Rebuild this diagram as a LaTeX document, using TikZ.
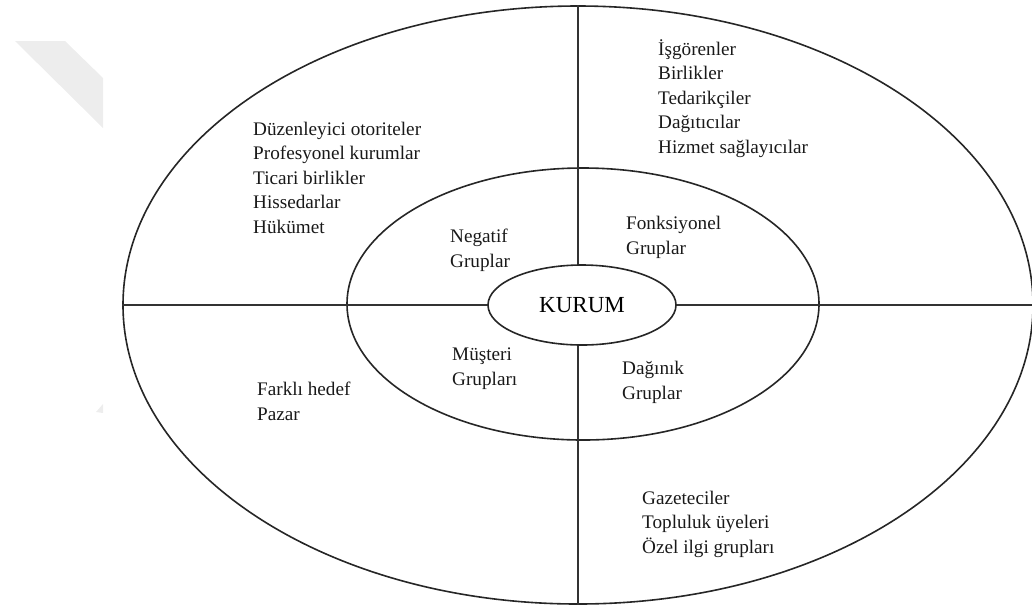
\documentclass[tikz,border=0pt]{standalone}
\usepackage{fontspec}
\setmainfont{Liberation Serif}
\usetikzlibrary{shapes.geometric}
\begin{document}
\begin{tikzpicture}[x=1pt,y=-1pt,
  ring/.style={draw=black!85, line width=1.6pt, ellipse, inner sep=0pt},
  divider/.style={draw=black!80, line width=2pt},
  grouptext/.style={anchor=base west, align=left, inner sep=0pt,
    font=\fontsize{19.2}{24.5}\selectfont, text=black!90},
]
\useasboundingbox (0,0) rectangle (1032,606);
% faint background mark
\fill[black!7] (15,41) -- (65,41) -- (103,78) -- (103,128) -- cycle;
\fill[black!7] (96,412) -- (103,404) -- (103,413) -- cycle;
% rings
\node[ring, minimum width=910pt, minimum height=598pt] (outer) at (578,305) {};
\node[ring, minimum width=472pt, minimum height=272pt] (inner) at (583,304) {};
% quadrant dividers
\draw[divider] (outer.west) -- (outer.east);
\draw[divider] (outer.north) -- (outer.south);
% centre
\node[ring, fill=white, minimum width=188pt, minimum height=80pt,
  font=\fontsize{23}{28}\selectfont] (kurum) at (582,305) {KURUM};
% outer ring groups (positioned by the baseline of their last line)
\node[grouptext] (tl) at (253,233) {Düzenleyici otoriteler\\Profesyonel kurumlar\\Ticari birlikler\\Hissedarlar\\Hükümet};
\node[grouptext] (tr) at (658,153) {İşgörenler\\Birlikler\\Tedarikçiler\\Dağıtıcılar\\Hizmet sağlayıcılar};
\node[grouptext] (bl) at (257,420) {Farklı hedef\\Pazar};
\node[grouptext] (br) at (642,553) {Gazeteciler\\Topluluk üyeleri\\Özel ilgi grupları};
% inner ring groups
\node[grouptext] (neg) at (450,267) {Negatif\\Gruplar};
\node[grouptext] (fon) at (626,254) {Fonksiyonel\\Gruplar};
\node[grouptext] (mus) at (452,385) {Müşteri\\Grupları};
\node[grouptext] (dag) at (622,399) {Dağınık\\Gruplar};
\end{tikzpicture}
\end{document}
